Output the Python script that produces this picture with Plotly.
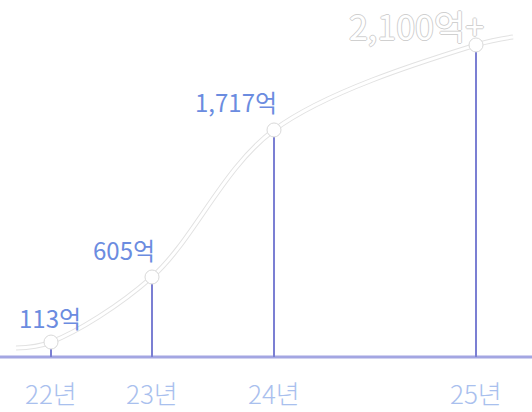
import plotly.graph_objects as go

# ---- data ----
years = ["22년", "23년", "24년", "25년"]
year_pos = [0.51, 1.52, 2.74, 4.76]          # horizontal position of each year on the timeline
values = [113, 605, 1717, 2360]              # plotted height (억)
value_labels = ["113억", "605억", "1,717억", "2,100억+"]
# smooth trend curve (extends a little beyond the first/last year)
trend_x = [0.16, 0.51, 1.52, 2.74, 4.76, 5.13]
trend_y = [68, 113, 605, 1717, 2360, 2420]

FONT = "Noto Sans CJK KR, Noto Sans, sans-serif"
STEM = "#7b7fd3"
BASE = "#a3a6e2"
VAL_C = "#6b8ce0"
TICK_C = "#a9c0ee"

fig = go.Figure()

# stems
for x, v in zip(year_pos, values):
    fig.add_trace(go.Scatter(x=[x, x], y=[0, v], mode="lines",
                             line=dict(color=STEM, width=2), hoverinfo="skip",
                             showlegend=False))

# trend curve: grey edge + white core
fig.add_trace(go.Scatter(x=trend_x, y=trend_y, mode="lines",
                         line=dict(color="#e2e2e2", width=5, shape="spline", smoothing=1.0),
                         hoverinfo="skip", showlegend=False))
fig.add_trace(go.Scatter(x=trend_x, y=trend_y, mode="lines",
                         line=dict(color="#ffffff", width=3, shape="spline", smoothing=1.0),
                         hoverinfo="skip", showlegend=False))

# point markers
fig.add_trace(go.Scatter(x=year_pos, y=values, mode="markers",
                         marker=dict(size=14, color="#ffffff",
                                     line=dict(color="#d9d9d9", width=1)),
                         hoverinfo="skip", showlegend=False))

# baseline
fig.add_shape(type="line", xref="paper", yref="y", x0=0, x1=1, y0=0, y1=0,
              line=dict(color=BASE, width=3), layer="below")

# value labels
outline = ", ".join(f"{dx}px {dy}px 0 #d0d0d0" for dx, dy in
                    [(1, 0), (-1, 0), (0, 1), (0, -1)])
last = len(values) - 1
for i, (x, v, lab) in enumerate(zip(year_pos, values, value_labels)):
    if i == last:
        fig.add_annotation(x=x, y=v, text=lab, showarrow=False,
                           xanchor="right", yanchor="middle", xshift=10, yshift=19,
                           font=dict(family=FONT, size=34, color="#ffffff", shadow=outline))
    elif i == 0:
        fig.add_annotation(x=x, y=v, text=lab, showarrow=False,
                           xanchor="center", yanchor="middle", xshift=-1, yshift=25,
                           font=dict(family=FONT, size=24, color=VAL_C))
    else:
        fig.add_annotation(x=x, y=v, text=lab, showarrow=False,
                           xanchor="right", yanchor="middle", xshift=5, yshift=28,
                           font=dict(family=FONT, size=24, color=VAL_C))

# year labels under the baseline
for x, y in zip(year_pos, years):
    fig.add_annotation(x=x, y=0, text=y, showarrow=False,
                       xanchor="center", yanchor="middle", yshift=-35,
                       font=dict(family=FONT, size=26, color=TICK_C, weight=300))

fig.update_layout(
    width=532, height=412,
    margin=dict(l=0, r=0, t=0, b=0),
    paper_bgcolor="#ffffff", plot_bgcolor="#ffffff",
    xaxis=dict(range=[0, 5.32], visible=False, fixedrange=True),
    yaxis=dict(range=[-416, 2700], visible=False, fixedrange=True),
    showlegend=False,
)

fig.write_html("out.html", config={"displayModeBar": False},
               post_script="document.body.style.margin='0px';document.body.style.overflow='hidden';")
